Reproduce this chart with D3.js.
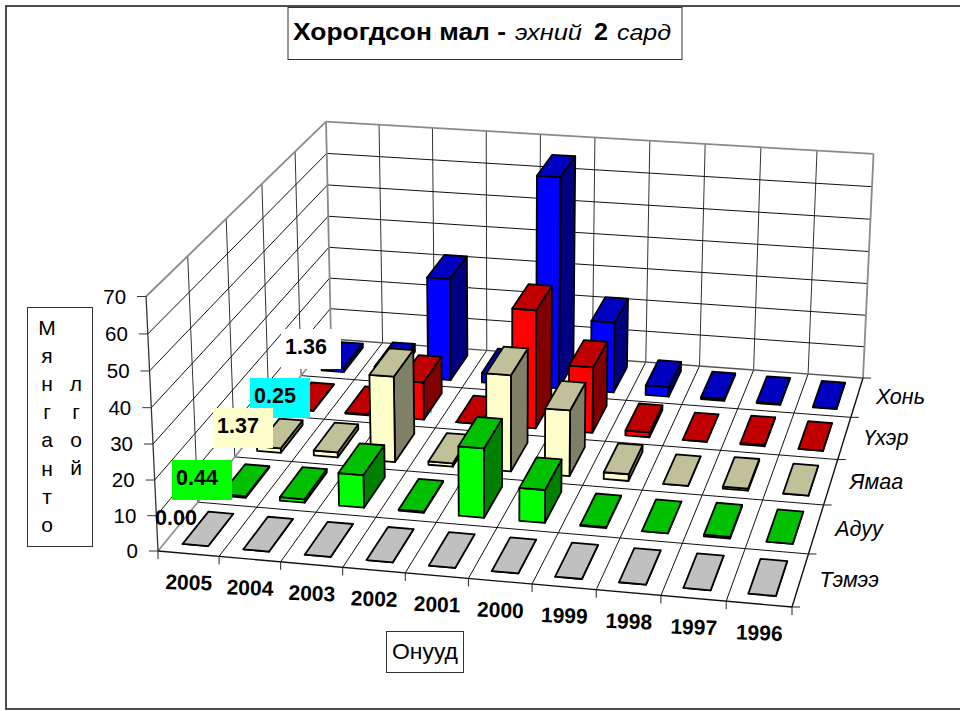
<!DOCTYPE html>
<html><head><meta charset="utf-8">
<script src="https://d3js.org/d3.v7.min.js"></script>
<style>html,body{margin:0;padding:0;background:#fff}svg{display:block}text{font-family:"Liberation Sans",Arial,sans-serif;fill:#000}</style>
</head><body><svg id="c" width="960" height="711"></svg>
<script>
const years=["2005","2004","2003","2002","2001","2000","1999","1998","1997","1996"];
const seriesNames=["Хонь","Үхэр","Ямаа","Адуу","Тэмээ"];
const khon =[1.36,2.5,32,3,65.5,22,3,0.6,0.4,0.2];
const ukher=[0.25,0.3,11.5,0,36,20,1.5,0,0.4,0];
const yamaa=[1.37,1.5,25.5,1,28.5,19.5,2,0,0.6,0];
const aduu =[0.44,1,9.5,0.3,20,9.5,0.3,0,0.5,0];
const temee=[0,0,0,0,0,0,0,0,0,0];
const seriesValues=[khon,ukher,yamaa,aduu,temee];
const zTicks=[0,10,20,30,40,50,60,70];
const fillFront=["#0000ff","#ff0000","#ffffcc","#00ff00","#c0c0c0"];
const fillTop=["#0000c0","#c00000","#c0c099","#00c000","#c0c0c0"];
const fillSide=["#000080","#800000","#808066","#008000","#808080"];
const labelSeries=[0,1,2,3,4];
const labelFill=["#ffffff","#00ffff","#ffffcc","#00ff00",null];
const labelBoxX=[281,250,213,172,151];
const labelBoxY=[329,378,408,460,500];

// projection calibration
const FL=[158,551],FR=[792,607],BR=[863,378],BL=[331,339];
const TFL=[148,297],TBL=[324,122],TBR=[874,153];
const U=d3.scaleLinear().domain([0,years.length]).range([0,1]);
const V=d3.scaleLinear().domain([0,seriesNames.length]).range([0,1]); // 0 = front
const Z=d3.scaleLinear().domain([0,70]).range([0,1]);
function hom(p0,p1,p2,p3){
  const dx1=p1[0]-p2[0],dx2=p3[0]-p2[0],sx=p0[0]-p1[0]+p2[0]-p3[0];
  const dy1=p1[1]-p2[1],dy2=p3[1]-p2[1],sy=p0[1]-p1[1]+p2[1]-p3[1];
  const den=dx1*dy2-dx2*dy1;
  const g=(sx*dy2-dx2*sy)/den,h=(dx1*sy-sx*dy1)/den;
  return {a:p1[0]-p0[0]+g*p1[0],b:p3[0]-p0[0]+h*p3[0],c:p0[0],d:p1[1]-p0[1]+g*p1[1],e:p3[1]-p0[1]+h*p3[1],f:p0[1],g,h};
}
const H=hom(FL,FR,BR,BL);
function solve(A,b){const n=b.length;A=A.map((r,i)=>[...r,b[i]]);
  for(let i=0;i<n;i++){let m=i;for(let j=i+1;j<n;j++)if(Math.abs(A[j][i])>Math.abs(A[m][i]))m=j;[A[i],A[m]]=[A[m],A[i]];
    for(let j=0;j<n;j++)if(j!==i){const f=A[j][i]/A[i][i];for(let k=i;k<=n;k++)A[j][k]-=f*A[i][k];}}
  return A.map((r,i)=>r[n]/r[i]);}
const eqs=[];
[[TFL,0,0],[TBL,0,1],[TBR,1,1]].forEach(([p,u,v])=>{
  const W=H.g*u+H.h*v+1;
  eqs.push([[1,0,-p[0]],p[0]*W-(H.a*u+H.b*v+H.c)]);
  eqs.push([[0,1,-p[1]],p[1]*W-(H.d*u+H.e*v+H.f)]);
});
const ATA=[0,1,2].map(i=>[0,1,2].map(j=>d3.sum(eqs,e=>e[0][i]*e[0][j])));
const ATb=[0,1,2].map(i=>d3.sum(eqs,e=>e[0][i]*e[1]));
const [zx,zy,zw]=solve(ATA,ATb);
function P(i,r,val){ // i: category position, r: depth position (0 front), val: data value
  const u=U(i),v=V(r),z=Z(val||0);
  const w=H.g*u+H.h*v+1+zw*z;
  return [(H.a*u+H.b*v+H.c+zx*z)/w,(H.d*u+H.e*v+H.f+zy*z)/w];
}
const svg=d3.select("#c");
const poly=d3.line().curve(d3.curveLinearClosed);
const seg=d3.line();
const gLine=(pts,col,w)=>svg.append("path").attr("d",seg(pts)).attr("fill","none").attr("stroke",col).attr("stroke-width",w);

svg.append("rect").attr("x",6).attr("y",6).attr("width",1000).attr("height",703).attr("fill","#fff").attr("stroke","#222").attr("stroke-width",1.6);
const nC=years.length,nR=seriesNames.length,zMax=70;

// grid: floor
d3.range(1,nC).forEach(i=>gLine([P(i,0),P(i,nR)],"#111",1));
d3.range(1,nR).forEach(r=>gLine([P(0,r),P(nC,r)],"#111",1));
// grid: back wall
d3.range(1,nC).forEach(i=>gLine([P(i,nR),P(i,nR,zMax)],"#333",1));
zTicks.slice(1,-1).forEach(t=>gLine([P(0,nR,t),P(nC,nR,t)],"#111",1));
// grid: left wall
d3.range(1,nR).forEach(r=>gLine([P(0,r),P(0,r,zMax)],"#333",1));
zTicks.slice(1,-1).forEach(t=>gLine([P(0,0,t),P(0,nR,t)],"#111",1));
// wall frames
const gray="#8a8a8a";
gLine([P(0,0),P(0,nR)],gray,1.6);
gLine([P(0,nR),P(nC,nR)],"#555",1.4);
gLine([P(0,nR),P(0,nR,zMax)],gray,1.8);
gLine([P(nC,nR),P(nC,nR,zMax)],gray,1.8);
gLine([P(0,nR,zMax),P(nC,nR,zMax)],gray,1.8);
gLine([P(0,0,zMax),P(0,nR,zMax)],gray,1.8);
gLine([P(0,0),P(0,0,zMax)],"#333",1.3);
gLine([P(0,0),P(nC,0)],"#111",1.4);
gLine([P(nC,0),P(nC,nR)],"#111",1.4);
// ticks
zTicks.forEach(t=>{const p=P(0,0,t);gLine([[p[0]-9,p[1]],p],"#333",1);
  svg.append("text").attr("x",p[0]-20).attr("y",p[1]+7).attr("text-anchor","end").attr("font-size",20.5).text(t);});
d3.range(0,nC+1).forEach(i=>{const p=P(i,0);gLine([p,[p[0],p[1]+8]],"#222",1);});
d3.range(0,nR+1).forEach(r=>{const p=P(nC,r);gLine([p,[p[0]+8,p[1]]],"#222",1);});
years.forEach((y,i)=>{const p=P(i+.5,0);
  svg.append("text").attr("transform",`translate(${p[0]},${p[1]+36}) rotate(2)`).attr("text-anchor","middle").attr("font-size",21).attr("font-weight","bold").text(y);});
seriesNames.forEach((s,k)=>{const r=nR-1-k+.5,p=P(nC,r);
  svg.append("text").attr("x",p[0]+19).attr("y",p[1]+7).attr("font-size",21.5).attr("font-style","italic").text(s);});

// bars
const halfW=.21,halfD=.33;
seriesNames.forEach((s,k)=>{
  const rc=nR-1-k+.5;
  if(k===1) svg.append("rect").attr("x",372).attr("y",373).attr("width",60).attr("height",40).attr("fill","#00ffff");
  years.forEach((y,i)=>{
    const v=seriesValues[k][i],c=i+.5;
    const x0=c-halfW,x1=c+halfW,r0=rc-halfD,r1=rc+halfD;
    const g=svg.append("g").attr("stroke","#000").attr("stroke-width",1.8).attr("stroke-linejoin","round");
    g.append("path").attr("d",poly([P(x1,r0),P(x1,r1),P(x1,r1,v),P(x1,r0,v)])).attr("fill",fillSide[k]);
    g.append("path").attr("d",poly([P(x0,r0),P(x1,r0),P(x1,r0,v),P(x0,r0,v)])).attr("fill",fillFront[k]);
    g.append("path").attr("d",poly([P(x0,r0,v),P(x1,r0,v),P(x1,r1,v),P(x0,r1,v)])).attr("fill",fillTop[k]);
  });
});

// data labels of the first category
labelSeries.forEach(k=>{
  const v=seriesValues[k][0],x=labelBoxX[k],y=labelBoxY[k];
  if(labelFill[k]) svg.append("rect").attr("x",x).attr("y",y).attr("width",60).attr("height",40).attr("fill",labelFill[k]);
  svg.append("text").attr("x",x+4).attr("y",y+24.5).attr("font-size",21.5).attr("font-weight","bold").text(v.toFixed(2));
});

// boxes
function box(x,y,w,h){svg.append("rect").attr("x",x).attr("y",y).attr("width",w).attr("height",h).attr("fill","#fff").attr("stroke","#333").attr("stroke-width",1);}
box(288,7.5,394,52);
const tp=(x,w,s,bold)=>svg.append("text").attr("x",x).attr("y",40).attr("font-size",bold?24:22).attr("font-weight",bold?"bold":null).attr("font-style",bold?null:"italic").attr("textLength",w).attr("lengthAdjust","spacingAndGlyphs").text(s);
tp(293,213,"Хорогдсон мал -",true);
tp(515,67,"эхний",false);
tp(594,14,"2",true);
tp(617,54,"сард",false);
box(27.5,307.5,65,239);
const yCol1=["М","я","н","г","а","н","т","о"],yCol2=["л","г","о","й"];
yCol1.forEach((c,i)=>svg.append("text").attr("x",47).attr("y",335+i*28.1).attr("text-anchor","middle").attr("font-size",21).text(c));
yCol2.forEach((c,i)=>svg.append("text").attr("x",76).attr("y",391+i*28).attr("text-anchor","middle").attr("font-size",21).text(c));
box(386.5,631.5,77,41);
svg.append("text").attr("x",392).attr("y",659).attr("font-size",22).attr("textLength",66).attr("lengthAdjust","spacingAndGlyphs").text("Онууд");
</script></body></html>
